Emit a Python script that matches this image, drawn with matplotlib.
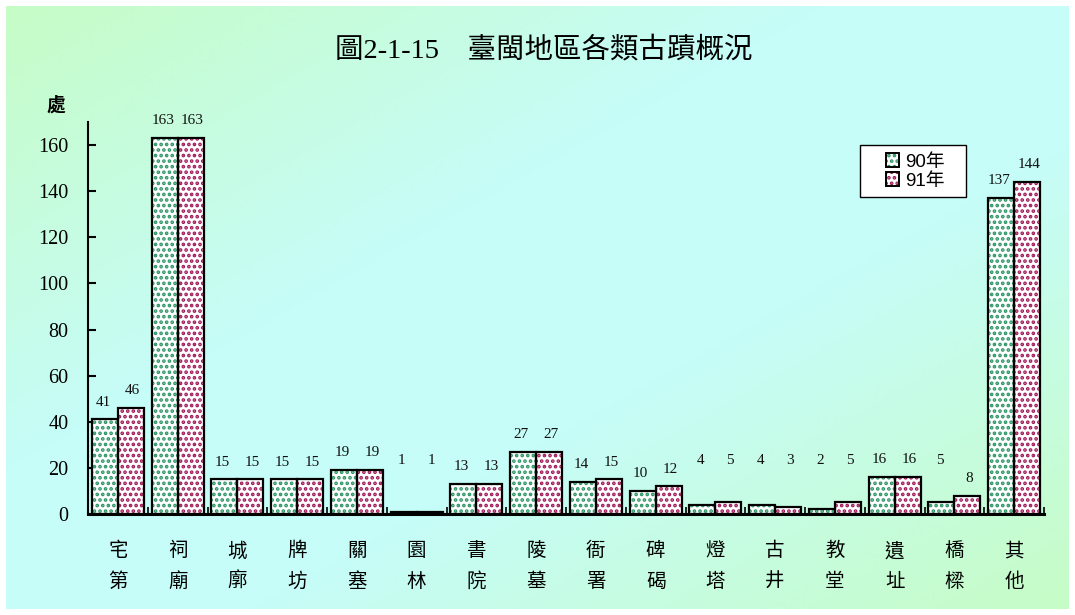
import numpy as np
import matplotlib
matplotlib.use("Agg")
import matplotlib.pyplot as plt
from matplotlib.patches import Patch, Rectangle
from matplotlib.legend_handler import HandlerTuple

categories = ["宅\n第", "祠\n廟", "城\n廓", "牌\n坊", "關\n塞", "園\n林", "書\n院", "陵\n墓",
              "衙\n署", "碑\n碣", "燈\n塔", "古\n井", "教\n堂", "遺\n址", "橋\n樑", "其\n他"]
vals_90 = [41, 163, 15, 15, 19, 1, 13, 27, 14, 10, 4, 4, 2, 16, 5, 137]
vals_91 = [46, 163, 15, 15, 19, 1, 13, 27, 15, 12, 5, 3, 5, 16, 8, 144]
series_names = ["90年", "91年"]
yticks = [0, 20, 40, 60, 80, 100, 120, 140, 160]

title = "圖2-1-15　臺閩地區各類古蹟概況"
unit_label = "處"

SERIF = ["Liberation Serif", "Noto Sans CJK TC"]
SANS_CJK = ["Noto Sans CJK TC", "DejaVu Sans"]
SANS = ["Liberation Sans", "Noto Sans CJK TC"]

plt.rcParams["hatch.linewidth"] = 1.8

W, H = 1075, 615
fig = plt.figure(figsize=(W / 100, H / 100), dpi=100)
fig.patch.set_facecolor("white")

# gradient background
bg = fig.add_axes([6 / W, 6 / H, (1069 - 6) / W, (609 - 6) / H], zorder=-10)
ny, nx = 200, 350
xx, yy = np.meshgrid(np.linspace(0, 1, nx), np.linspace(0, 1, ny))
t = (xx + yy) / 2.0  # 0 at top-left, 1 at bottom-right
m = 1 - np.abs(2 * t - 1)
m = np.clip(m * 1.3, 0, 1)
green = np.array([198, 252, 198]) / 255
cyan = np.array([198, 253, 248]) / 255
img = green[None, None, :] * (1 - m[..., None]) + cyan[None, None, :] * m[..., None]
bg.imshow(img, aspect="auto", extent=[0, 1, 0, 1], origin="upper")
bg.set_axis_off()

ax = fig.add_axes([88 / W, 1 - 514 / H, (1044 - 88) / W, (514 - 122) / H])
ax.set_facecolor("none")

x = np.arange(len(categories))
bw = 0.435
green_dot = "#2a9464"
red_dot = "#a01858"
HATCH = "..."

for vals, off, col in [(vals_90, -bw / 2, green_dot), (vals_91, bw / 2, red_dot)]:
    ax.bar(x + off, vals, width=bw, color="white", edgecolor=col, linewidth=0,
           hatch=HATCH, zorder=2)
    ax.bar(x + off, vals, width=bw, fill=False, edgecolor="black", linewidth=1.6, zorder=3)

# value labels
for vals, off in [(vals_90, -bw / 2), (vals_91, bw / 2)]:
    for xi, v in zip(x, vals):
        ylab = v + 7.5 if v >= 8 else 23
        ax.text(xi + off * 1.15, ylab, str(v), ha="center", va="center",
                fontsize=11, family=SERIF, color="#111111", zorder=4)

ax.set_xlim(-0.5, len(categories) - 0.5)
ax.set_ylim(0, 170)
ax.set_yticks(yticks)
ax.set_yticklabels([str(v) for v in yticks], family=SERIF, fontsize=14.5)
ax.tick_params(axis="y", direction="in", length=6, width=1.5, pad=14)

ax.set_xticks(x)
ax.set_xticklabels(categories, family=SANS_CJK, fontsize=14, linespacing=1.6)
ax.tick_params(axis="x", which="major", length=0, pad=19)
ax.set_xticks(np.arange(-0.5, len(categories)), minor=True)
ax.tick_params(axis="x", which="minor", direction="in", length=5, width=1.2)

for s in ["top", "right"]:
    ax.spines[s].set_visible(False)
ax.spines["left"].set_linewidth(1.5)
ax.spines["bottom"].set_linewidth(2.2)

fig.text(544 / W, 1 - 50 / H, title, ha="center", va="center", fontsize=20.5,
         family=SERIF, color="black")
fig.text(56 / W, 1 - 105 / H, unit_label, ha="center", va="center", fontsize=13.5,
         family=SANS_CJK, weight="bold")

# legend frame
fig.patches.append(Rectangle((860 / W, 1 - 197 / H), 106 / W, 52 / H,
                             transform=fig.transFigure, facecolor="white",
                             edgecolor="black", linewidth=1.0, zorder=5))
h90 = (Patch(facecolor="white", edgecolor=green_dot, linewidth=0, hatch=HATCH),
       Patch(fill=False, edgecolor="black", linewidth=1.4))
h91 = (Patch(facecolor="white", edgecolor=red_dot, linewidth=0, hatch=HATCH),
       Patch(fill=False, edgecolor="black", linewidth=1.4))
leg = fig.legend([h90, h91], series_names, loc="center left",
                 bbox_to_anchor=(886 / W, 1 - 171.5 / H),
                 handler_map={tuple: HandlerTuple(ndivide=1, pad=0)},
                 prop={"family": SANS, "size": 13.5}, frameon=False,
                 handlelength=0.7, handleheight=0.7,
                 handletextpad=0.3, borderpad=0, labelspacing=0.1,
                 borderaxespad=0)
leg.set_zorder(6)

fig.savefig("out.png", dpi=100, facecolor=fig.get_facecolor())
